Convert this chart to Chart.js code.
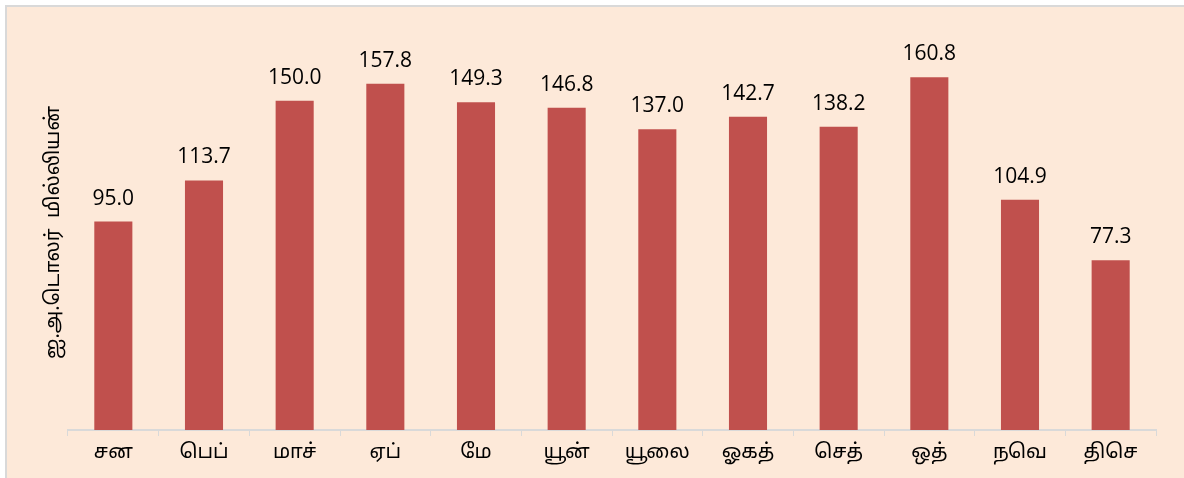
<!DOCTYPE html>
<html>
<head>
<meta charset="utf-8">
<script src="https://cdn.jsdelivr.net/npm/chart.js@4"></script>
<style>
  body { margin: 0; background: #fff; }
  #box {
    position: absolute; left: 5px; top: 5px; width: 1179px; height: 473px;
    background: #FDE9D9; border-top: 2px solid #d9d9d9; border-left: 2px solid #d9d9d9;
    box-sizing: border-box;
  }
</style>
</head>
<body>
<div id="box"><canvas id="c" width="1177" height="471"></canvas></div>
<script>
const months = ["சன", "பெப்", "மாச்", "ஏப்", "மே", "யூன்", "யூலை", "ஓகத்", "செத்", "ஒத்", "நவெ", "திசெ"];
const values = [95.0, 113.7, 150.0, 157.8, 149.3, 146.8, 137.0, 142.7, 138.2, 160.8, 104.9, 77.3];
const yTitle = "ஐ.அ.டொலர்  மில்லியன்";

const tamilFont = "'Noto Sans Tamil', 'Lohit Tamil', Latha, 'Noto Sans', sans-serif";

// draw value above each bar
const barLabels = {
  id: "barLabels",
  afterDatasetsDraw(chart) {
    const ctx = chart.ctx;
    const meta = chart.getDatasetMeta(0);
    ctx.save();
    ctx.font = "21px 'Open Sans', 'Noto Sans', sans-serif";
    ctx.fillStyle = "#000";
    ctx.textAlign = "center";
    ctx.textBaseline = "alphabetic";
    meta.data.forEach((bar, i) => {
      ctx.fillText(values[i].toFixed(1), bar.x, bar.y - 17);
    });
    ctx.restore();
  }
};

new Chart(document.getElementById("c"), {
  type: "bar",
  data: {
    labels: months,
    datasets: [{
      data: values,
      backgroundColor: "#C0504D",
      barPercentage: 0.84,
      categoryPercentage: 0.5
    }]
  },
  options: {
    responsive: false,
    animation: false,
    layout: { padding: { top: 28, right: 28, bottom: 0, left: 0 } },
    plugins: { legend: { display: false }, tooltip: { enabled: false } },
    scales: {
      x: {
        offset: true,
        grid: { display: true, drawOnChartArea: false, offset: true, tickLength: 6, color: "#d9d9d9" },
        border: { color: "#d9d9d9", width: 2 },
        ticks: { color: "#000", padding: 6, font: { size: 20, family: tamilFont } },
        afterFit(scale) { scale.height = 48; }
      },
      y: {
        min: 0,
        max: 180,
        grid: { display: false },
        border: { display: false },
        ticks: { display: false },
        title: {
          display: true,
          text: yTitle,
          color: "#000",
          padding: { top: 36, bottom: 0 },
          font: { size: 20, family: tamilFont }
        },
        afterFit(scale) { scale.width = 61; }
      }
    }
  },
  plugins: [barLabels]
});
</script>
</body>
</html>
